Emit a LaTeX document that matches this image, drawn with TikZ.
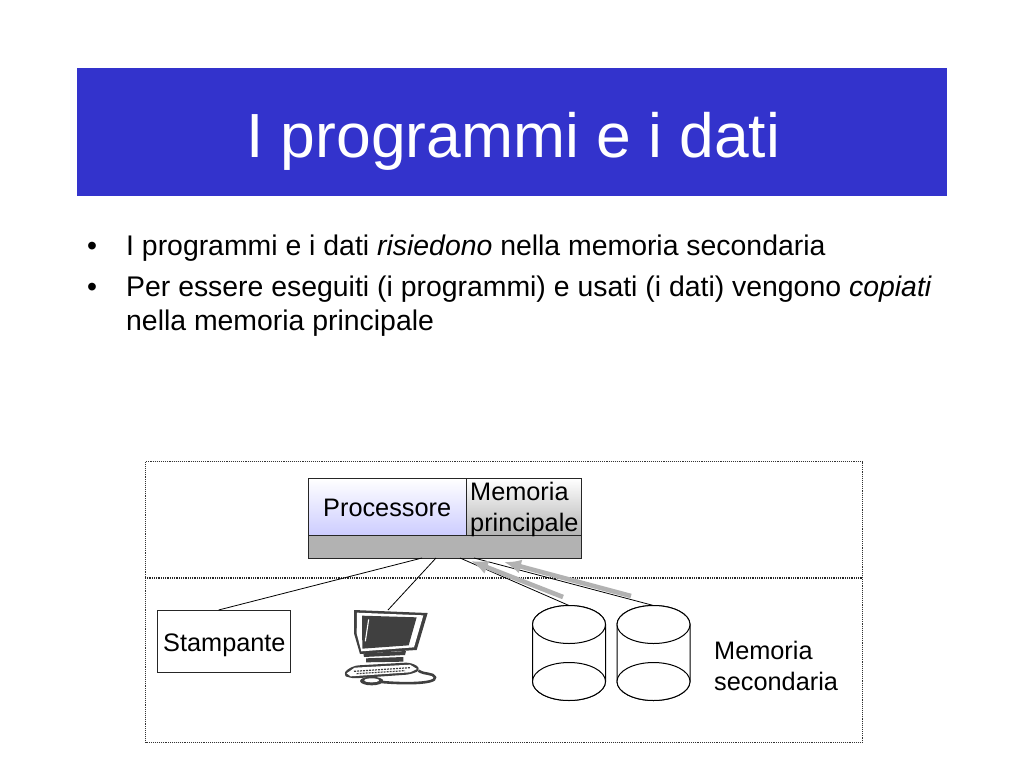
\documentclass[tikz,border=0pt]{standalone}
\usepackage{fontspec}
\setmainfont{Liberation Sans}
\usetikzlibrary{arrows.meta}
\definecolor{titleblue}{HTML}{3333CC}
\definecolor{busgray}{HTML}{B2B2B2}
\definecolor{icon}{HTML}{404040}
\tikzset{
  x=1pt,y=-1pt,
  box/.style={draw=black!85,line width=1.2pt,inner sep=0pt,anchor=north west},
  label/.style={inner sep=0pt,anchor=base west,font=\fontsize{25.3}{30}\selectfont,text=black},
  bodytext/.style={inner sep=0pt,anchor=base west,font=\fontsize{28.4}{34}\selectfont,text=black},
  zone/.style={draw=black!80,line width=1.15pt,dash pattern=on 1pt off 0.9pt},
  midline/.style={draw=black!85,line width=1.5pt,dash pattern=on 1pt off 0.8pt},
  wire/.style={draw=black,line width=0.8pt},
  copyarrow/.style={draw=busgray,line width=4.6pt,-{Latex[length=17pt,width=14pt]}},
  cyl/.style={draw=black,line width=1pt,fill=white}
}
\begin{document}
\begin{tikzpicture}
\useasboundingbox (0,0) rectangle (1024,768);
\fill[white] (0,0) rectangle (1024,768);
% title
\node[inner sep=0pt,anchor=north west,minimum width=870pt,minimum height=128pt,fill=titleblue] (titlebar) at (77,68) {};
\node[inner sep=0pt,anchor=base west,font=\fontsize{62.4}{70}\selectfont,text=white] (titletext) at (246,157) {I programmi e i dati};
% bullets
\node[bodytext] (b1) at (87,255) {•};
\node[bodytext] (t1) at (126,255) {I programmi e i dati \textit{risiedono} nella memoria secondaria};
\node[bodytext] (b2) at (87,296) {•};
\node[bodytext] (t2) at (126,296) {Per essere eseguiti (i programmi) e usati (i dati) vengono \textit{copiati}};
\node[bodytext] (t3) at (126,330) {nella memoria principale};
% zones
\node[zone,inner sep=0pt,anchor=north west,minimum width=717pt,minimum height=281pt] (outer) at (145,461) {};
\coordinate (midy) at (0,578);
\draw[midline] (outer.west |- midy) -- (outer.east |- midy);
% system box
\node[box,top color=white,bottom color=blue!20,minimum width=158pt,minimum height=57pt] (proc) at (308,478) {};
\node[box,top color=white,bottom color=busgray,minimum width=115pt,minimum height=57pt] (mem) at (466,478) {};
\node[box,fill=busgray,minimum width=273pt,minimum height=23pt] (bus) at (308,535) {};
\node[label] (proctext) at (323,516) {Processore};
\node[label] (memtext1) at (470,500) {Memoria};
\node[label] (memtext2) at (470,531) {principale};
% printer
\node[box,minimum width=133pt,minimum height=62pt] (printer) at (157,610) {};
\node[label] (printertext) at (163,651) {Stampante};
% cylinders
\coordinate (cylatop) at (569,605.5);
\coordinate (cylbtop) at (653.5,605.5);
\foreach \cx in {569,653.5}{
  \draw[cyl] (\cx-36.5,624.5) arc[start angle=180,end angle=360,x radius=36.5,y radius=19]
     -- (\cx+36.5,681.5) arc[start angle=0,end angle=-180,x radius=36.5,y radius=-19] -- cycle;
  \draw[cyl] (\cx,624.5) ellipse[x radius=36.5,y radius=19];
  \draw[cyl] (\cx,681.5) ellipse[x radius=36.5,y radius=19];
}
\node[label] (sectext1) at (714,659) {Memoria};
\node[label] (sectext2) at (714,690) {secondaria};
% computer icon
\coordinate (pctop) at (388,610);
\begin{scope}[shift={(330,600)},x=0.3333pt,y=-0.3333pt]
  \fill[icon] (72,30) -- (293,39) -- (260,150) -- (228,152) -- (90,162) -- (72,100) -- cycle;
  \fill[white] (81,38) -- (280,46) -- (252,142) -- (94,154) -- (80,100) -- cycle;
  \fill[icon] (96,47) -- (260,52) -- (236,136) -- (97,146) -- cycle;
  \draw[white,line width=1.1pt] (116,58) -- (106,124);
  \fill[icon] (100,160) -- (228,153) -- (225,165) -- (102,171) -- cycle;
  \fill[icon] (108,175) -- (220,171) -- (220,185) -- (108,187) -- cycle;
  \fill[icon,rounded corners=6pt] (36,222) -- (68,197) -- (245,187) -- (275,208) -- (245,223) -- (60,236) -- cycle;
  \fill[white] (50,220) -- (74,203) -- (240,194) -- (261,207) -- (240,217) -- (62,229) -- cycle;
  \draw[icon,line width=1.2pt,dash pattern=on 2pt off 1pt] (72,214) -- (240,203);
  \draw[icon,line width=1.2pt,dash pattern=on 2pt off 1pt] (80,221) -- (225,212);
  \fill[icon] (125,243) ellipse[x radius=35,y radius=13];
  \fill[white] (125,241) ellipse[x radius=22,y radius=6];
  \draw[icon,line width=2.6pt] (155,246) .. controls (220,252) and (320,252) .. (315,232) .. controls (310,218) and (285,225) .. (265,212);
\end{scope}
% connectors
\draw[wire] (printer.north) ++(-5.5,0) coordinate (ptop) -- (422,558);
\draw[wire] (pctop) -- (436,558);
\draw[wire] (cylatop) -- (460,558);
\draw[wire] (cylbtop) -- (474,558);
\coordinate (a1s) at (563,597); \coordinate (a1e) at (471,561);
\coordinate (a2s) at (631,596); \coordinate (a2e) at (504,562);
\draw[copyarrow] (a1s) -- (a1e);
\draw[copyarrow] (a2s) -- (a2e);
\end{tikzpicture}
\end{document}
